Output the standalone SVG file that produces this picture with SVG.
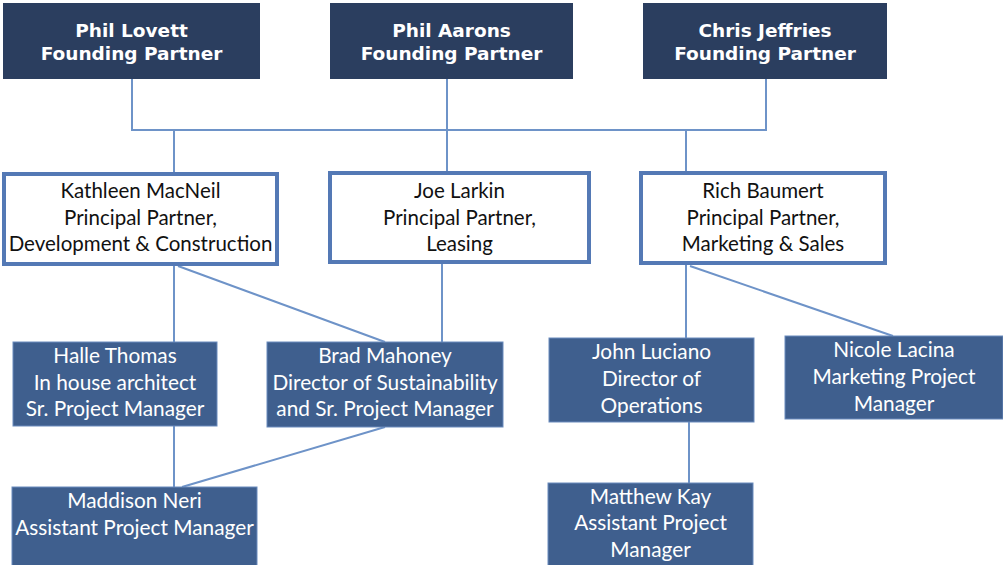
<svg xmlns="http://www.w3.org/2000/svg" width="1003" height="565" viewBox="0 0 1003 565">
  <style>
    .founder rect { fill: #2b3e5f; }
    .founder text { fill: #ffffff; font-family: "DejaVu Sans", Verdana, sans-serif; font-weight: bold; font-size: 18.5px; text-anchor: middle; }
    .principal rect { fill: #ffffff; stroke: #5479b5; stroke-width: 4; }
    .principal text { fill: #111111; font-family: Lato, "Open Sans", sans-serif; font-size: 20.5px; text-anchor: middle; }
    .staff rect { fill: #3f5f8e; stroke: #6a8bbd; stroke-width: 1; }
    .staff text { fill: #ffffff; font-family: Lato, "Open Sans", sans-serif; font-size: 20.8px; text-anchor: middle; }
    #connectors path { fill: none; stroke: #6e93c8; stroke-width: 2; }
  </style>
  <rect width="1003" height="565" fill="#ffffff"/>

  <g id="connectors">
    <path d="M132 79 V130 H766 V79"/>
    <path d="M447 79 V172"/>
    <path d="M174 130 V172"/>
    <path d="M686 130 V172"/>
    <path d="M174 265 V342"/>
    <path d="M178 266 L385 342"/>
    <path d="M442 263 V342"/>
    <path d="M174 426 V487"/>
    <path d="M385 427 L182 487"/>
    <path d="M686 264 V338"/>
    <path d="M690 266 L893 336"/>
    <path d="M689 422 V483"/>
  </g>

  <g id="phil-lovett" class="founder">
    <rect x="3" y="3" width="257" height="76"/>
    <text x="131.5" y="37">Phil Lovett</text>
    <text x="131.5" y="60">Founding Partner</text>
  </g>
  <g id="phil-aarons" class="founder">
    <rect x="330" y="3" width="243" height="76"/>
    <text x="451.5" y="37">Phil Aarons</text>
    <text x="451.5" y="60">Founding Partner</text>
  </g>
  <g id="chris-jeffries" class="founder">
    <rect x="643" y="3" width="244" height="76"/>
    <text x="765" y="37">Chris Jeffries</text>
    <text x="765" y="60">Founding Partner</text>
  </g>

  <g id="kathleen-macneil" class="principal">
    <rect x="4" y="174" width="273" height="90"/>
    <text x="140.5" y="198">Kathleen MacNeil</text>
    <text x="140.5" y="225">Principal Partner,</text>
    <text x="140.5" y="251">Development &amp; Construction</text>
  </g>
  <g id="joe-larkin" class="principal">
    <rect x="330" y="173" width="259" height="89"/>
    <text x="459.5" y="198">Joe Larkin</text>
    <text x="459.5" y="225">Principal Partner,</text>
    <text x="459.5" y="251">Leasing</text>
  </g>
  <g id="rich-baumert" class="principal">
    <rect x="641" y="173" width="244" height="90"/>
    <text x="763" y="198">Rich Baumert</text>
    <text x="763" y="225">Principal Partner,</text>
    <text x="763" y="251">Marketing &amp; Sales</text>
  </g>

  <g id="halle-thomas" class="staff">
    <rect x="13" y="342" width="204" height="84"/>
    <text x="115" y="363">Halle Thomas</text>
    <text x="115" y="390">In house architect</text>
    <text x="115" y="416">Sr. Project Manager</text>
  </g>
  <g id="brad-mahoney" class="staff">
    <rect x="267" y="342" width="236" height="85"/>
    <text x="385" y="363">Brad Mahoney</text>
    <text x="385" y="390">Director of Sustainability</text>
    <text x="385" y="416">and Sr. Project Manager</text>
  </g>
  <g id="maddison-neri" class="staff">
    <rect x="12" y="487" width="245" height="90"/>
    <text x="134.5" y="508">Maddison Neri</text>
    <text x="134.5" y="535">Assistant Project Manager</text>
  </g>
  <g id="john-luciano" class="staff">
    <rect x="549" y="338" width="205" height="84"/>
    <text x="651.5" y="359">John Luciano</text>
    <text x="651.5" y="386">Director of</text>
    <text x="651.5" y="413">Operations</text>
  </g>
  <g id="nicole-lacina" class="staff">
    <rect x="785" y="336" width="218" height="83"/>
    <text x="894" y="357">Nicole Lacina</text>
    <text x="894" y="384">Marketing Project</text>
    <text x="894" y="411">Manager</text>
  </g>
  <g id="matthew-kay" class="staff">
    <rect x="548" y="483" width="205" height="94"/>
    <text x="650.5" y="504">Matthew Kay</text>
    <text x="650.5" y="530">Assistant Project</text>
    <text x="650.5" y="557">Manager</text>
  </g>
</svg>
